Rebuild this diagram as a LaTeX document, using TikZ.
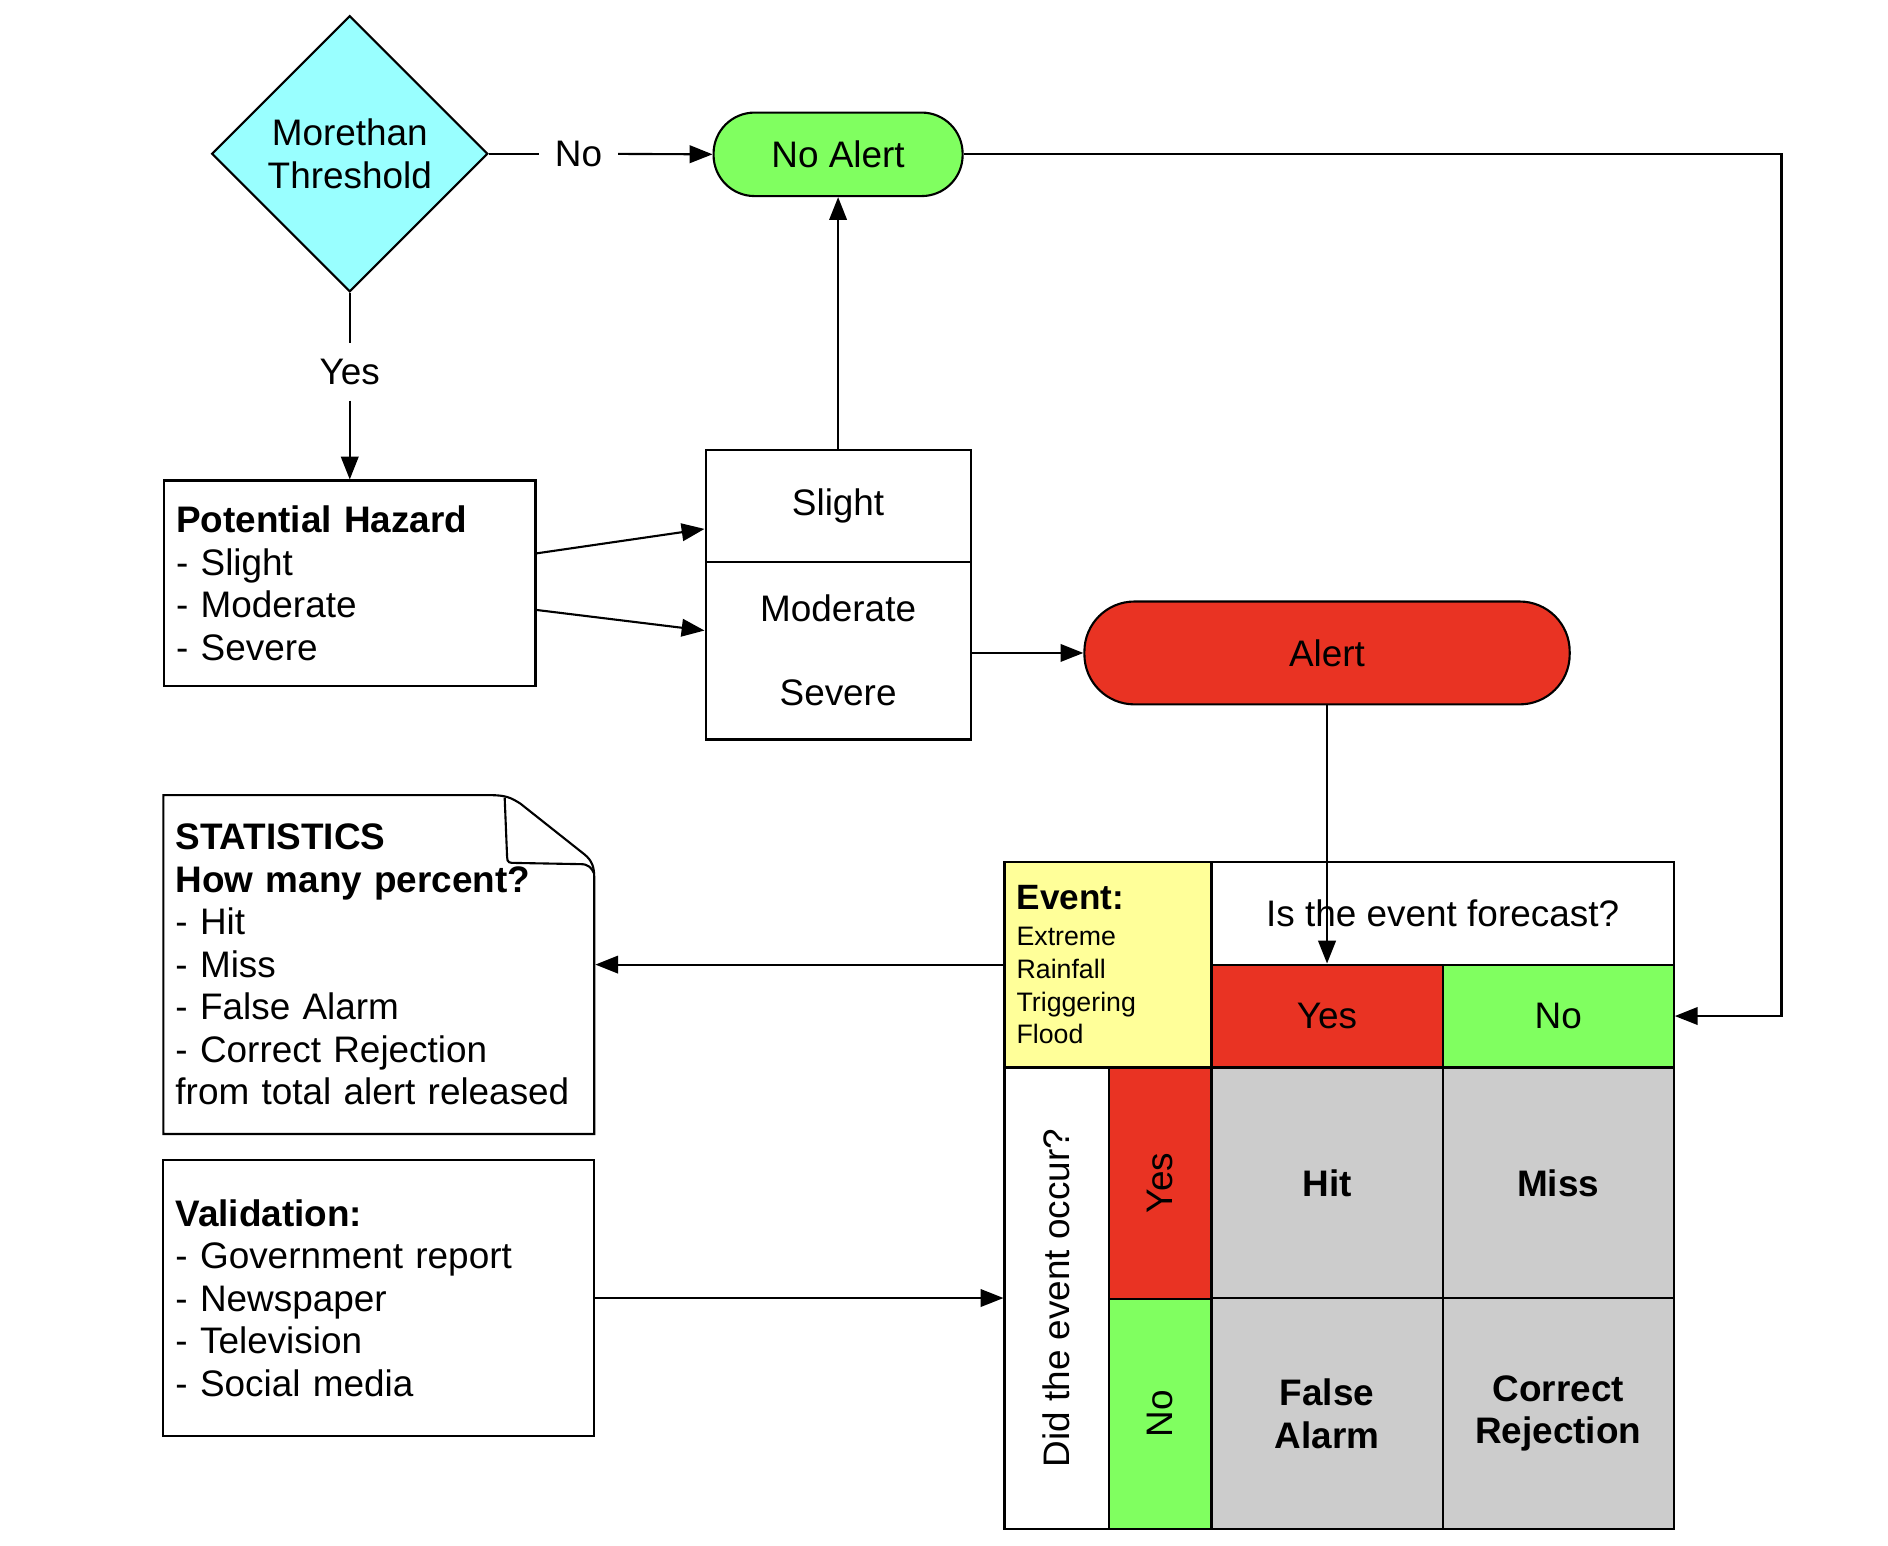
\documentclass[tikz,border=0pt]{standalone}
\usepackage{fontspec}
\setmainfont{Liberation Sans}
\usetikzlibrary{shapes.geometric,arrows.meta}
\definecolor{cyanfill}{RGB}{153,255,255}
\definecolor{greenfill}{RGB}{128,255,96}
\definecolor{redfill}{RGB}{233,51,35}
\definecolor{yellowfill}{RGB}{255,255,153}
\definecolor{grayfill}{RGB}{204,204,204}
\tikzset{
  box/.style={draw,inner sep=0pt},
  listbox/.style={align=left,inner xsep=0.121cm,inner ysep=0pt,text width=4.066cm,minimum width=4.308cm},
  cell/.style={draw,inner sep=0pt,align=center},
  lab/.style={inner sep=0.15cm},
  bold/.style={font=\fontsize{10.5}{12.1}\selectfont\bfseries},
  arr/.style={-{Triangle[length=6.5pt,width=5pt]}}
}
\begin{document}
\begin{tikzpicture}[x=0.0121cm,y=-0.0121cm,line width=0.6pt,
    every node/.style={font=\fontsize{10.5}{12.1}\selectfont}]
    \def\cw{2.311cm} \def\ch{1.0285cm} % o bang
    \useasboundingbox (0,0) rectangle (1560,1277.4);
    \node[diamond,draw,fill=cyanfill,minimum width=2.76cm,minimum height=2.76cm,inner sep=0pt,align=center] (thr) at (289,127) {Morethan\\Threshold};
    \node[box,rounded corners=0.41cm,fill=greenfill,minimum width=2.49cm,minimum height=0.835cm] (noalert) at (692.5,127.5) {No Alert};
    \node[lab] (nolab) at (478,127) {No};
    \node[lab] (yeslab) at (289,307) {Yes};
    \node[box,listbox,text width=3.473cm,minimum width=3.715cm,minimum height=2.057cm] (hazard) at (289,482) {\textbf{Potential Hazard}\\- Slight\\- Moderate\\- Severe};
    \node[box,minimum width=2.65cm,minimum height=1.113cm] (slight) at (692.5,418) {Slight};
    \node[box,align=center,minimum width=2.65cm,minimum height=1.779cm] (modsev) at (692.5,537.5) {Moderate\\[11.9pt]Severe};
    \node[box,rounded corners=0.5cm,fill=redfill,minimum width=4.852cm,minimum height=1.0285cm] (alert) at (1096.5,539.5) {Alert};
    % bang
    \node[cell,fill=yellowfill,align=left,text width=1.827cm,inner xsep=0.121cm,minimum width=2.069cm,minimum height=2.057cm] (evt) at (915.5,797)
      {{\fontsize{10}{12}\selectfont\bfseries Event:}\\[1pt]\fontsize{7.6}{9.3}\selectfont Extreme\\Rainfall\\Triggering\\Flood\par};
    \node[cell,minimum width=4.622cm,minimum height=\ch] (fq) at (1192,754.5) {Is the event forecast?};
    \node[cell,fill=redfill,minimum width=\cw,minimum height=\ch] (fyes) at (1096.5,839.5) {Yes};
    \node[cell,fill=greenfill,minimum width=\cw,minimum height=\ch] (fno) at (1287.5,839.5) {No};
    \node[cell,rotate=90,minimum width=4.61cm,minimum height=1.041cm] (oq) at (873,1072.5) {Did the event occur?};
    \node[cell,rotate=90,fill=redfill,minimum width=\cw,minimum height=\ch] (oyes) at (958.5,977.5) {Yes};
    \node[cell,rotate=90,fill=greenfill,minimum width=2.299cm,minimum height=\ch] (ono) at (958.5,1168) {No};
    \foreach \n/\x/\y/\t in {hit/1096.5/977.5/Hit,miss/1287.5/977.5/Miss,fa/1096.5/1168/{False\\Alarm},cr/1287.5/1168/{Correct\\Rejection}}
    \node[cell,bold,fill=grayfill,minimum width=\cw,minimum height=2.305cm] (\n) at (\x,\y) {\t};
    % thong ke, kiem chung
    \node[listbox,minimum height=3.388cm] (stat) at (313,797) {\textbf{STATISTICS}\\\textbf{How many percent?}\\- Hit\\- Miss\\- False Alarm\\- Correct Rejection\\from total alert released};
    \draw (135,657) -- (405,657) .. controls (418,657) and (422,659) .. (430,664) -- (483,706) .. controls (489,711) and (491,716) .. (491,725) -- (491,937) -- (135,937) -- cycle;
    \draw (417,659) -- (419,708) .. controls (419,713) and (421,713) .. (426,713) -- (480,714) .. controls (486,714) and (489,717) .. (491,722);
    \node[box,listbox,minimum height=2.759cm] (valid) at (313,1072.5) {\textbf{Validation:}\\- Government report\\- Newspaper\\- Television\\- Social media};
    \coordinate (rt) at (1472,127.5);
    \draw (thr.east) -- (nolab);
    \draw[arr] (nolab) -- (noalert.west);
    \draw (thr.south) -- (yeslab);
    \draw[arr] (yeslab) -- (hazard.north);
    \draw[arr] ([yshift=0.3cm]hazard.east) -- ([yshift=-0.23cm]slight.west);
    \draw[arr] ([yshift=-0.266cm]hazard.east) -- ([yshift=0.2cm]modsev.west);
    \draw[arr] (slight.north) -- (noalert.south);
    \draw[arr] (modsev.east |- alert.west) -- (alert.west);
    \draw[arr] (noalert.east) -- (rt) |- (fno.east);
    \draw[arr] (alert.south) -- (fyes.north);
    \draw[arr] (evt.west) -- (stat.east);
    \draw[arr] (valid.east) -- (oq.north);
\end{tikzpicture}
\end{document}
